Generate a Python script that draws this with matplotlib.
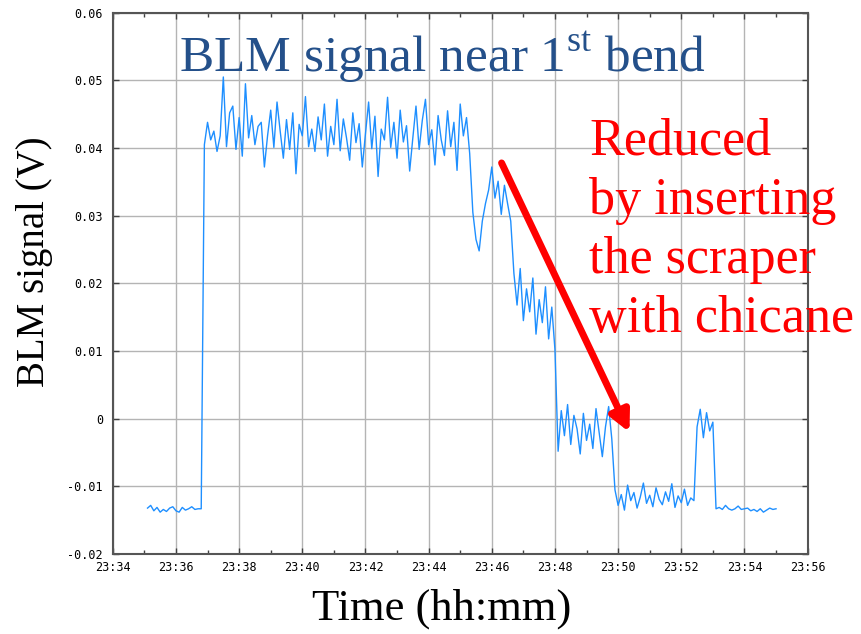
import numpy as np
import matplotlib
matplotlib.use("Agg")
import matplotlib.pyplot as plt

plt.rcParams["mathtext.fontset"] = "custom"
plt.rcParams["mathtext.rm"] = "Liberation Serif"

# Sampling of the BLM trace (minutes after 23:00)
sample_start = 35.1
sample_step = 0.1

# Signal segments (V)
baseline_before = [-0.0132, -0.0128, -0.0136, -0.0131, -0.0138, -0.0134,
                   -0.0137, -0.0132, -0.0130, -0.0136, -0.0138, -0.0131,
                   -0.0135, -0.0133, -0.0130, -0.0134, -0.0133, -0.0133]
plateau_high = [0.0405, 0.0438, 0.0412, 0.0425, 0.0395, 0.0418, 0.0505, 0.0402,
                0.0452, 0.0462, 0.0398, 0.0445, 0.0388, 0.0495, 0.0415, 0.0448,
                0.0405, 0.0432, 0.0438, 0.0372, 0.0418, 0.0456, 0.0401, 0.0468,
                0.0425, 0.0385, 0.0442, 0.0398, 0.0452, 0.0362, 0.0435, 0.0418,
                0.0476, 0.0402, 0.0428, 0.0395, 0.0446, 0.0412, 0.0465, 0.0388,
                0.0432, 0.0405, 0.0472, 0.0396, 0.0443, 0.0415, 0.0382, 0.0452,
                0.0408, 0.0436, 0.0372, 0.0421, 0.0468, 0.0399, 0.0447, 0.0358,
                0.0428, 0.0412, 0.0475, 0.0401, 0.0438, 0.0385, 0.0456, 0.0409,
                0.0433, 0.0366, 0.0415, 0.0462, 0.0398, 0.0441, 0.0472, 0.0405,
                0.0427, 0.0375, 0.0448, 0.0412, 0.0389, 0.0455, 0.0402, 0.0438,
                0.0367, 0.0465, 0.0418, 0.0445, 0.0392]
first_drop = [0.0305, 0.0265, 0.0248, 0.0292, 0.0318]
shoulder = [0.0338, 0.0372, 0.0326, 0.0351, 0.0302, 0.0345, 0.0318, 0.0292]
second_step = [0.0215, 0.0168, 0.0222, 0.0145, 0.0192, 0.0158, 0.0208,
               0.0125, 0.0176, 0.0142, 0.0195, 0.0118, 0.0165, 0.0102]
near_zero = [-0.0048, 0.0012, -0.0025, 0.0021, -0.0038, 0.0005, -0.0015,
             -0.0052, 0.0008, -0.0032, -0.0008, -0.0044, 0.0015, -0.0021,
             -0.0056, -0.0012, 0.0018, -0.0030]
scraper_in = [-0.0105, -0.0128, -0.0112, -0.0135, -0.0098, -0.0121, -0.0109,
              -0.0132, -0.0116, -0.0095, -0.0125, -0.0113, -0.0130, -0.0102,
              -0.0119, -0.0127, -0.0108, -0.0122, -0.0096, -0.0131, -0.0114,
              -0.0124, -0.0104, -0.0128, -0.0117, -0.0121]
short_bump = [-0.0012, 0.0014, -0.0028, 0.0009, -0.0018, -0.0005]
baseline_after = [-0.0133, -0.0131, -0.0134, -0.0128, -0.0133, -0.0135,
                  -0.0133, -0.0129, -0.0134, -0.0133, -0.0132, -0.0136,
                  -0.0134, -0.0137, -0.0133, -0.0138, -0.0135, -0.0132,
                  -0.0134, -0.0133]

signal = np.array(baseline_before + plateau_high + first_drop + shoulder
                  + second_step + near_zero + scraper_in + short_bump
                  + baseline_after)
minutes = sample_start + sample_step * np.arange(len(signal))

x_ticks = list(range(34, 57, 2))
x_tick_labels = ["23:%02d" % m for m in x_ticks]
y_ticks = [-0.02, -0.01, 0, 0.01, 0.02, 0.03, 0.04, 0.05, 0.06]
y_tick_labels = ["-0.02", "-0.01", "0", "0.01", "0.02", "0.03", "0.04", "0.05", "0.06"]

fig = plt.figure(figsize=(8.61, 6.34), dpi=100)
ax = fig.add_axes([0.131, 0.126, 0.807, 0.854])

ax.plot(minutes, signal, color="#1e8fff", lw=1.0)

ax.set_xlim(34, 56)
ax.set_ylim(-0.02, 0.06)
ax.set_xticks(x_ticks)
ax.set_xticklabels(x_tick_labels)
ax.set_xticks(range(35, 56, 2), minor=True)
ax.set_yticks(y_ticks)
ax.set_yticklabels(y_tick_labels)
ax.grid(True, which="major", color="#b4b4b4", lw=1.0)
ax.set_axisbelow(True)

ax.tick_params(which="both", direction="in", top=True, right=True,
               color="#404040", labelsize=8.5)
ax.tick_params(which="major", length=4, width=1)
ax.tick_params(which="minor", length=3, width=1)
ax.tick_params(axis="y", pad=7)
ax.tick_params(axis="x", pad=5)
for lab in ax.get_xticklabels() + ax.get_yticklabels():
    lab.set_family("DejaVu Sans Mono")
for sp in ax.spines.values():
    sp.set_color("#555555")
    sp.set_linewidth(1.5)

ax.set_xlabel("Time (hh:mm)", family="Liberation Serif", fontsize=32)
ax.set_ylabel("BLM signal (V)", family="Liberation Serif", fontsize=28)
ax.xaxis.set_label_coords(0.473, -0.1)
ax.yaxis.set_label_coords(-0.112, 0.54)
ax.xaxis.label.set_va("center")
ax.yaxis.label.set_va("center")

# title inside the plot
ax.text(0.096, 0.891, r"BLM signal near 1$^{\rm st}$ bend", transform=ax.transAxes,
        ha="left", va="baseline", family="Liberation Serif", fontsize=37,
        color="#24508a")

# annotation (va="baseline" aligns the last line)
ax.text(0.686, 0.410, "Reduced\nby inserting\nthe scraper\nwith chicane",
        transform=ax.transAxes, ha="left", va="baseline", family="Liberation Serif",
        fontsize=37.5, color="red", linespacing=1.3)
ax.annotate("", xy=(50.36, -0.0020), xytext=(46.31, 0.0378),
            arrowprops=dict(arrowstyle="-|>", color="red", lw=5,
                            mutation_scale=30, shrinkA=0, shrinkB=0))

fig.savefig("out.png", dpi=100)
